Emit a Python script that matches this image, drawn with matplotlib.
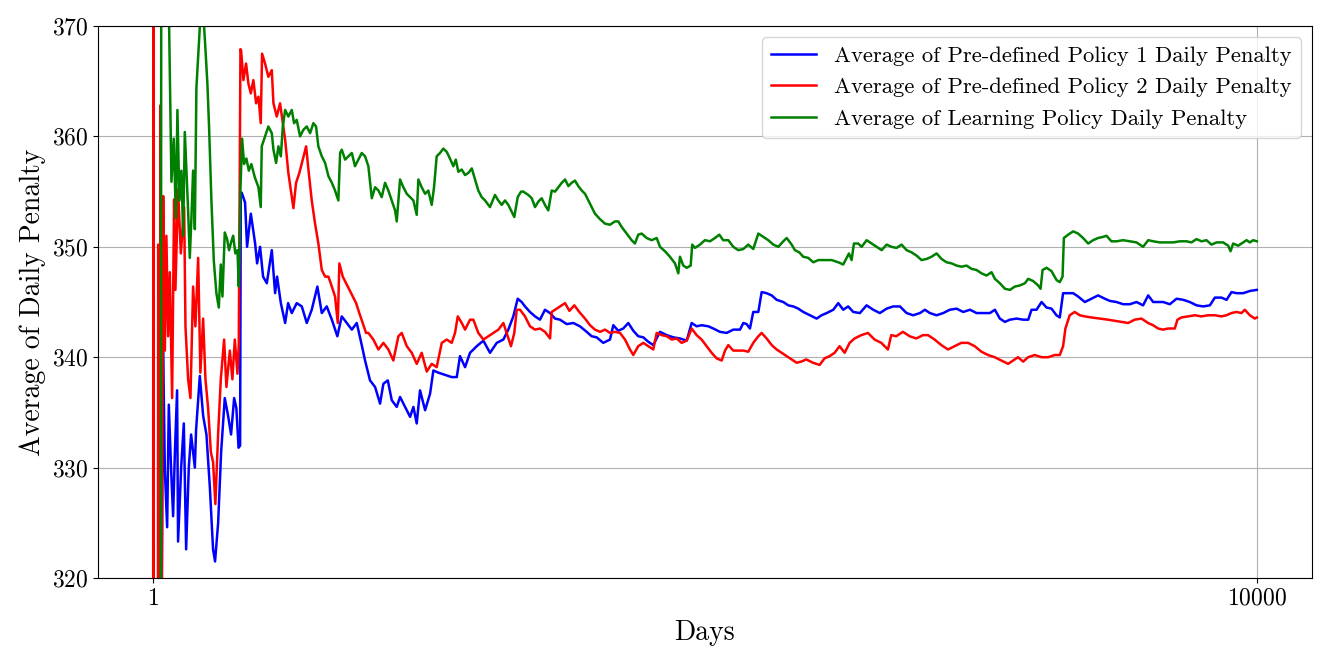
import matplotlib
matplotlib.use('Agg')
import matplotlib.pyplot as plt

# average daily penalty (day, value)
days_p1 = [1, 40, 80, 90, 107, 128, 143, 164, 182, 197, 218, 227, 255, 279, 300, 324, 345, 379, 390, 424,
           454, 484, 515, 544, 562, 590, 617, 650, 680, 707, 735, 755, 775, 789, 795,
           804, 834, 852, 886, 925, 943, 970, 997, 1031, 1076, 1106, 1124, 1158, 1197, 1224, 1257, 1302, 1348,
           1393, 1438, 1489, 1529, 1574, 1620, 1670, 1710, 1755, 1801, 1846, 1891, 1921, 1966, 2012, 2057, 2087,
           2127, 2163, 2208, 2238, 2283, 2329, 2359, 2389, 2419, 2465, 2510, 2540, 2585, 2646, 2706, 2752, 2781,
           2827, 2872, 2933, 2993, 3053, 3114, 3174, 3219, 3264, 3304, 3340, 3370, 3415, 3461, 3506, 3551, 3597,
           3642, 3687, 3748, 3808, 3868, 3929, 3974, 4019, 4079, 4140, 4170, 4215, 4260, 4306, 4351, 4396, 4442,
           4487, 4532, 4593, 4654, 4714, 4774, 4835, 4880, 4925, 4970, 5031, 5076, 5136, 5197, 5257, 5318, 5348,
           5378, 5408, 5438, 5484, 5514, 5559, 5605, 5650, 5710, 5755, 5801, 5846, 5891, 5952, 6012, 6057, 6103,
           6163, 6208, 6253, 6298, 6344, 6404, 6465, 6525, 6585, 6646, 6706, 6767, 6827, 6887, 6948, 6993, 7038,
           7099, 7159, 7219, 7280, 7340, 7401, 7461, 7521, 7582, 7627, 7672, 7718, 7763, 7823, 7884, 7929, 7959,
           8004, 8050, 8095, 8140, 8185, 8215, 8245, 8291, 8336, 8381, 8442, 8502, 8562, 8623, 8668, 8729, 8789,
           8850, 8910, 8970, 9016, 9061, 9106, 9152, 9212, 9273, 9333, 9393, 9454, 9514, 9575, 9620, 9680, 9726,
           9771, 9816, 9877, 9937, 10000]
pen_p1 = [305, 314, 318, 341.9, 329.8, 324.6, 335.7, 329.8, 325.6, 331, 337, 323.3, 330, 334, 322.6, 330, 333, 330, 333.4, 338.3,
          334.7, 333, 328.2, 322.6, 321.5, 325, 331.4, 336.3, 334.7, 333, 336.3, 335.4, 331.8, 332, 354.9,
          354.9, 354, 350, 353, 350.3, 348.5, 350, 347.3, 346.7, 349.7, 345.8, 347.3, 344.9, 343.1, 344.9, 344, 344.9, 344.6,
          343.1, 344.3, 346.4, 344, 344.6, 343.4, 341.9, 343.7, 343.1, 342.5, 343.1, 341.1, 339.7, 337.9, 337.3, 335.8, 337.6,
          337.9, 336.1, 335.5, 336.4, 335.5, 334.6, 335.5, 334, 337, 335.2, 336.7, 338.8, 338.6, 338.4, 338.2, 338.2, 340.1,
          339.1, 340.4, 341, 341.5, 340.4, 341.3, 341.6, 342.5, 343.7, 345.3, 345, 344.6, 344.1, 343.7, 343.4, 344.3, 344,
          343.5, 343.4, 343, 343.1, 342.8, 342.3, 341.9, 341.8, 341.3, 341.6, 342.9, 342.4, 342.6, 343.1, 342.4, 341.9, 341.8,
          341.4, 341.1, 342.3, 342, 341.8, 341.7, 341.5, 343.1, 342.8, 342.9, 342.8, 342.6, 342.3, 342.2, 342.5, 342.5, 343.1,
          343, 342.6, 344.1, 344.1, 345.9, 345.8, 345.6, 345.2, 345, 344.7, 344.6, 344.4, 344.1, 343.8, 343.5, 343.8, 344,
          344.3, 344.9, 344.3, 344.6, 344.1, 344, 344.7, 344.3, 344, 344.4, 344.6, 344.6, 344, 343.8, 344, 344.3, 344,
          343.8, 344, 344.3, 344.4, 344.1, 344.3, 344, 344, 344, 344.3, 343.5, 343.2, 343.4, 343.5, 343.4, 343.4, 344.3,
          344.3, 345, 344.5, 344.4, 343.8, 343.6, 345.8, 345.8, 345.8, 345.5, 345, 345.3, 345.6, 345.3, 345.1, 345, 344.8,
          344.8, 345, 344.7, 345.6, 345, 345, 345, 344.8, 345.3, 345.2, 345, 344.7, 344.6, 344.7, 345.4, 345.4, 345.2,
          345.9, 345.8, 345.8, 346, 346.1]

days_p2 = [1, 3, 6, 44, 47, 52, 63, 66, 72, 92, 107, 121, 137, 152, 173, 191, 203, 227, 252, 282, 294, 318, 339,
           363, 384, 409, 429, 454, 475, 499, 524, 544, 565, 590, 614, 644, 665, 696, 719, 741, 765, 777, 792,
           798, 819, 843, 864, 886, 909, 934, 955, 976, 988, 1015, 1045, 1076, 1091, 1121, 1151, 1176, 1197, 1226,
           1257, 1272, 1296, 1326, 1357, 1387, 1408, 1438, 1468, 1498, 1529, 1559, 1589, 1620, 1649, 1674, 1688,
           1719, 1749, 1779, 1810, 1840, 1869, 1900, 1930, 1951, 1996, 2042, 2087, 2132, 2177, 2223, 2253, 2299,
           2344, 2389, 2434, 2480, 2525, 2570, 2616, 2661, 2706, 2736, 2761, 2797, 2827, 2872, 2902, 2947, 2993,
           3038, 3083, 3129, 3174, 3204, 3243, 3273, 3295, 3325, 3370, 3415, 3461, 3506, 3551, 3597, 3612, 3657,
           3703, 3733, 3772, 3817, 3862, 3914, 3959, 4004, 4050, 4095, 4140, 4185, 4231, 4276, 4321, 4351, 4396,
           4442, 4487, 4532, 4563, 4608, 4654, 4699, 4744, 4789, 4835, 4880, 4925, 4970, 5016, 5061, 5106, 5152,
           5182, 5212, 5257, 5302, 5348, 5393, 5438, 5484, 5514, 5559, 5605, 5650, 5695, 5741, 5786, 5831, 5872,
           5918, 5979, 6039, 6084, 6130, 6175, 6220, 6266, 6311, 6356, 6417, 6477, 6537, 6598, 6658, 6688, 6733,
           6794, 6855, 6915, 6976, 7021, 7081, 7142, 7202, 7263, 7323, 7384, 7444, 7505, 7565, 7625, 7686, 7747,
           7792, 7837, 7883, 7928, 7988, 8049, 8109, 8170, 8215, 8245, 8266, 8305, 8350, 8396, 8441, 8502, 8577,
           8653, 8713, 8774, 8834, 8894, 8955, 9015, 9060, 9106, 9151, 9196, 9257, 9281, 9317, 9378, 9438, 9498,
           9559, 9619, 9680, 9725, 9770, 9816, 9861, 9891, 9937, 9982, 10000]
pen_p2 = [290, 415, 300, 300, 350.2, 300, 300, 362.8, 300, 354.6, 340.6, 351, 341.9, 347.7, 336.3, 354.3, 346.1, 355.2, 349.4, 353.6, 342.8, 338, 336.3,
          346.4, 342.8, 349, 338.6, 343.5, 338, 335.4, 331.4, 330.5, 326.7, 333.1, 338, 341.6, 337.3, 340.6, 338, 341.6, 338.5, 341.2, 367.9,
          367.8, 365.1, 366.6, 364.8, 363.9, 365.1, 363, 363.6, 361.2, 367.5, 366.6, 365.4, 366, 363, 361.8, 363, 361.2, 359.7, 356.7,
          354.5, 353.5, 355.8, 356.7, 357.9, 359.1, 357, 354.2, 352.1, 350.3, 347.9, 347.3, 347.3, 346.4, 345.5, 343.1, 348.5,
          347.3, 346.7, 346.1, 345.5, 344.9, 344, 343.1, 342.2, 342.2, 341.6, 340.7, 341.3, 340.7, 339.7, 341.9, 342.2, 341,
          340.4, 339.4, 340.4, 338.7, 339.4, 339.1, 341.3, 341.6, 341.3, 342.2, 343.7, 343.1, 342.5, 343.4, 343.4, 342.2, 341.6,
          341.9, 342.2, 342.5, 343.1, 342.2, 341, 342.2, 344.3, 344.3, 343.7, 342.8, 342.5, 342.6, 342.3, 341.7, 344.1, 344.4,
          344.7, 344.9, 344.2, 344.7, 344.1, 343.5, 342.9, 342.5, 342.3, 342.5, 342.2, 342.3, 342.2, 341.6, 340.7, 340.2, 341,
          341.3, 341, 340.7, 342.2, 342, 341.9, 341.6, 341.7, 341.3, 341.5, 342.6, 342, 341.6, 341, 340.4, 339.9, 339.7,
          340.6, 341.1, 340.6, 340.6, 340.6, 340.5, 341.3, 341.9, 342.2, 341.7, 341.1, 340.7, 340.4, 340.1, 339.8, 339.5, 339.6,
          339.8, 339.5, 339.3, 339.9, 340.1, 340.4, 341, 340.4, 341.3, 341.7, 342, 342.2, 341.6, 341.3, 340.7, 342, 341.9,
          342.3, 341.9, 341.7, 342, 342, 341.6, 341.1, 340.7, 341, 341.3, 341.3, 341, 340.5, 340.2, 340, 339.7, 339.4,
          339.7, 340, 339.6, 340, 340.2, 340, 340, 340.2, 340.2, 341, 342.6, 343.8, 344.1, 343.8, 343.7, 343.6, 343.5,
          343.4, 343.3, 343.2, 343.1, 343.4, 343.5, 343.1, 342.9, 342.6, 342.5, 342.6, 342.6, 343.4, 343.6, 343.7, 343.8, 343.7,
          343.8, 343.8, 343.7, 343.8, 344, 344.1, 344, 344.3, 343.8, 343.5, 343.6]

days_learn = [1, 70, 76, 140, 146, 167, 188, 207, 221, 239, 257, 273, 288, 303, 318, 333, 348, 363, 379, 393, 409,
              424, 438, 463, 475, 493, 508, 529, 551, 574, 596, 614, 629, 650, 671, 689, 710, 726, 746, 765, 777,
              792, 807, 825, 846, 868, 891, 922, 955, 976, 985, 1015, 1045, 1076, 1091, 1115, 1136, 1158, 1176,
              1197, 1226, 1257, 1278, 1302, 1332, 1362, 1393, 1423, 1453, 1477, 1498, 1529, 1559, 1589, 1620, 1649,
              1679, 1695, 1710, 1740, 1770, 1801, 1830, 1860, 1891, 1921, 1951, 1982, 2012, 2042, 2072, 2102, 2132,
              2163, 2193, 2208, 2238, 2268, 2299, 2329, 2359, 2389, 2404, 2434, 2465, 2494, 2525, 2546, 2570, 2600,
              2630, 2661, 2690, 2721, 2743, 2766, 2797, 2827, 2857, 2888, 2917, 2947, 2978, 3008, 3053, 3098, 3128,
              3159, 3189, 3219, 3249, 3273, 3304, 3334, 3355, 3400, 3431, 3461, 3491, 3521, 3551, 3581, 3612, 3642,
              3672, 3703, 3733, 3763, 3793, 3823, 3853, 3884, 3914, 3944, 3974, 4004, 4050, 4095, 4140, 4185, 4215,
              4246, 4291, 4336, 4366, 4396, 4427, 4472, 4517, 4563, 4593, 4638, 4683, 4729, 4759, 4774, 4804, 4835,
              4871, 4885, 4910, 4955, 5000, 5046, 5091, 5130, 5166, 5212, 5257, 5302, 5348, 5393, 5438, 5484, 5529,
              5574, 5620, 5665, 5710, 5741, 5786, 5815, 5855, 5891, 5936, 5982, 6027, 6087, 6148, 6208, 6253, 6284,
              6305, 6329, 6350, 6389, 6420, 6465, 6510, 6555, 6601, 6646, 6691, 6736, 6782, 6827, 6872, 6918, 6963,
              7008, 7053, 7099, 7144, 7189, 7235, 7280, 7325, 7370, 7416, 7461, 7506, 7551, 7597, 7627, 7672, 7718,
              7763, 7808, 7853, 7899, 7929, 7974, 8019, 8041, 8059, 8095, 8140, 8185, 8215, 8240, 8252, 8291, 8336,
              8381, 8426, 8472, 8517, 8562, 8608, 8638, 8683, 8729, 8789, 8850, 8910, 8970, 9016, 9061, 9121, 9182,
              9242, 9303, 9363, 9408, 9454, 9499, 9544, 9590, 9635, 9695, 9741, 9762, 9786, 9831, 9877, 9907, 9937,
              9967, 10000]
pen_learn = [300, 310, 395, 385, 369.9, 355.9, 359.8, 352.6, 362.4, 354.2, 356.9, 351, 360.4, 356.9, 353.3, 349, 352.6, 356.9, 351.6, 364.4, 367.3,
             369.9, 372, 369.9, 367.9, 364.7, 360.8, 354.2, 348.7, 345.8, 344.5, 348.4, 345.5, 351.3, 350.7, 349.7, 350.5, 351, 349.4, 349.7, 346.4,
             355.2, 359.8, 357.5, 358, 356.9, 357.5, 356.3, 355.4, 353.6, 359.1, 360, 360.9, 360.3, 358.8, 357.6, 359.1, 358.2, 360.9,
             362.4, 361.8, 362.4, 361.2, 361.5, 360, 360.6, 360.9, 360.3, 361.2, 360.9, 359.1, 358.2, 357.6, 356.4, 355.8, 355.1,
             354.2, 358.5, 358.8, 357.9, 358.2, 358.5, 357.3, 357.9, 358.5, 358.2, 357.3, 354.4, 355.4, 355.1, 354.5, 355.8, 355.1,
             354.2, 353.3, 352.3, 356.1, 355.4, 354.8, 354.5, 354.2, 352.9, 356.1, 355.4, 354.8, 355.1, 353.8, 355.4, 358.2, 358.5,
             358.9, 358.6, 358, 357.3, 357.9, 356.8, 357, 356.5, 356.7, 357.1, 356.1, 355.1, 354.5, 354.2, 353.6, 354.7, 354.2,
             353.8, 354.2, 353.8, 353.2, 352.7, 354.5, 355, 355, 354.7, 354.4, 353.6, 354.1, 354.4, 353.8, 353.3, 355.1, 355,
             355.4, 355.8, 356.1, 355.5, 355.8, 356, 355.5, 355.1, 354.8, 354.2, 353.6, 353, 352.5, 352.1, 352, 352.3, 352.3,
             351.8, 351.2, 350.6, 350.3, 351.1, 351.2, 350.8, 350.6, 350.8, 350, 349.6, 349.1, 348.5, 347.6, 349.1, 348.3, 348.1,
             348.3, 350.2, 349.9, 350.2, 350.6, 350.5, 350.8, 351.1, 350.6, 350.6, 350, 349.7, 349.8, 350.2, 349.8, 351.2, 350.9,
             350.6, 350.2, 350, 350.5, 350.8, 350.2, 349.7, 349.5, 349.1, 349, 348.6, 348.8, 348.8, 348.8, 348.6, 348.4, 349,
             349.4, 348.8, 350.3, 350.3, 350, 350.6, 350.3, 350, 349.7, 350.2, 350, 349.9, 350.2, 349.7, 349.5, 349.2, 348.8,
             348.9, 349.1, 349.4, 348.9, 348.6, 348.5, 348.3, 348.2, 348.3, 348, 347.9, 347.6, 347.4, 347.7, 347.1, 346.7, 346.2,
             346.1, 346.4, 346.5, 346.7, 347.1, 346.9, 346.5, 346.2, 347.9, 348.1, 347.8, 347, 346.8, 347.3, 350.8, 351.1, 351.4,
             351.2, 350.8, 350.3, 350.6, 350.8, 350.9, 351, 350.5, 350.5, 350.6, 350.5, 350.4, 350, 350.6, 350.5, 350.4, 350.4,
             350.4, 350.5, 350.5, 350.4, 350.7, 350.5, 350.6, 350.2, 350.4, 350.4, 350.1, 349.6, 350.3, 350.1, 350.4, 350.6, 350.4,
             350.6, 350.5]

plt.rcParams['font.family'] = 'cmr10'
plt.rcParams['mathtext.fontset'] = 'cm'
plt.rcParams['axes.formatter.use_mathtext'] = True

fig = plt.figure(figsize=(13.29, 6.64), dpi=100)
ax = fig.add_axes([0.0737, 0.1295, 0.9135, 0.8313])

ax.plot(days_p1, pen_p1, color='blue', lw=1.8, label='Average of Pre-defined Policy 1 Daily Penalty')
ax.plot(days_p2, pen_p2, color='red', lw=1.8, label='Average of Pre-defined Policy 2 Daily Penalty')
ax.plot(days_learn, pen_learn, color='green', lw=1.8, label='Average of Learning Policy Daily Penalty')

ax.set_ylim(320, 370)
ax.set_xticks([1, 10000])
ax.set_yticks([320, 330, 340, 350, 360, 370])
ax.tick_params(labelsize=17)
ax.set_xlabel('Days', fontsize=20, labelpad=7)
ax.set_ylabel('Average of Daily Penalty', fontsize=20)
ax.grid(True)
ax.legend(loc='upper right', fontsize=16.3)

fig.savefig('out.png', dpi=100)
